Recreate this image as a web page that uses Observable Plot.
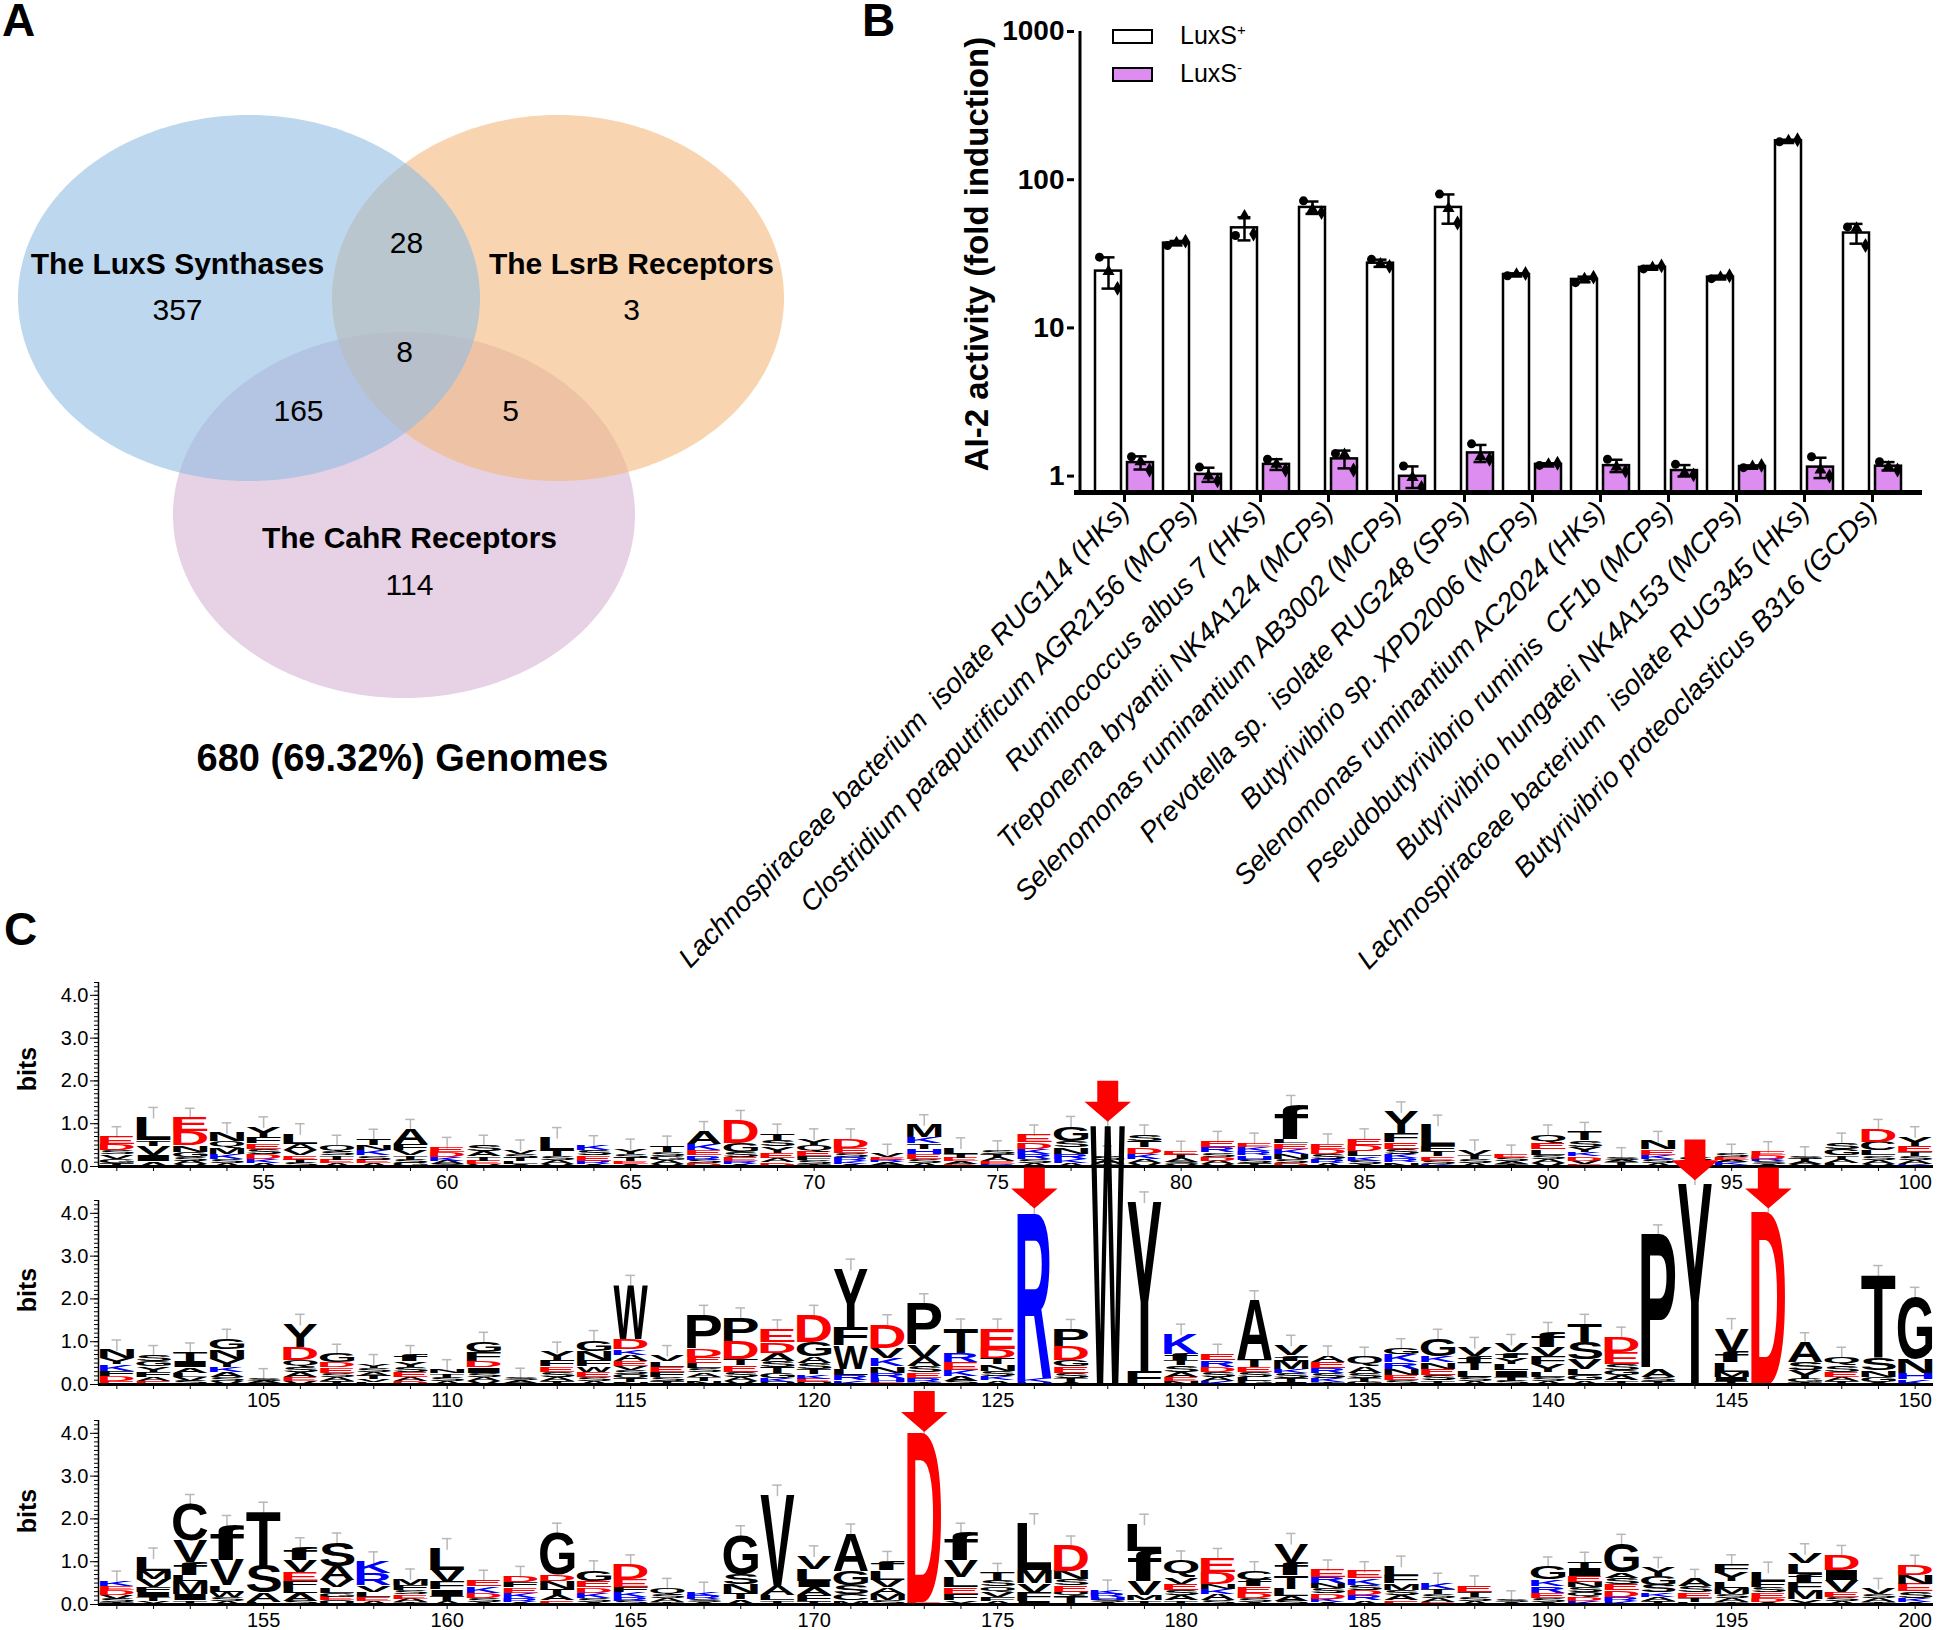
<!DOCTYPE html>
<html><head><meta charset="utf-8">
<script src="https://cdn.jsdelivr.net/npm/d3@7"></script>
<script src="https://cdn.jsdelivr.net/npm/@observablehq/plot@0.6"></script>
<style>
html,body{margin:0;padding:0;background:#fff}
#root{position:relative;width:1945px;height:1630px;overflow:hidden;font-family:"Liberation Sans",Arial,sans-serif;color:#000;background:#fff}
.lbl{position:absolute;white-space:nowrap;line-height:1}
.panel{font-weight:bold;font-size:46px}
.rot{transform:translate(-50%,-50%) rotate(-90deg);font-weight:bold}
.box{position:absolute;width:37px;height:11px;border:2px solid #000}
</style></head><body><div id="root"></div>
<script>
// ---------- Panel A: Venn ----------
const vennSets = ["The CahR Receptors", "The LsrB Receptors", "The LuxS Synthases"]; // draw order
const vennCx = [404, 558, 249];
const vennCy = [515, 298, 298];
const vennRx = [231, 226, 231];
const vennRy = [183, 183, 183];
const vennColors = ["#d7b2d2", "#f3b97b", "#91bce3"];
const vennSetLabelX = [409, 631, 177];
const vennSetLabelY = [538, 264, 264];
const vennCounts = [114, 3, 357, 28, 8, 165, 5];
const vennCountX = [409, 631, 177, 406, 404, 298, 510];
const vennCountY = [585, 310, 310, 243, 352, 411, 411];
const vennTotal = ["680 (69.32%) Genomes"];
const vennTotalX = [402], vennTotalY = [758];

// ---------- Panel B: bars ----------
const species = [
  "Lachnospiraceae bacterium  isolate RUG114 (HKs)",
  "Clostridium paraputrificum AGR2156 (MCPs)",
  "Ruminococcus albus 7 (HKs)",
  "Treponema bryantii NK4A124 (MCPs)",
  "Selenomonas ruminantium AB3002 (MCPs)",
  "Prevotella sp.  isolate RUG248 (SPs)",
  "Butyrivibrio sp. XPD2006 (MCPs)",
  "Selenomonas ruminantium AC2024 (HKs)",
  "Pseudobutyrivibrio ruminis  CF1b (MCPs)",
  "Butyrivibrio hungatei NK4A153 (MCPs)",
  "Lachnospiraceae bacterium  isolate RUG345 (HKs)",
  "Butyrivibrio proteoclasticus B316 (GCDs)"
];
const luxsPlus = [[30,24,18.5],[36,37.5,38.5],[42,57,43],[72,63,60],[29,27,26],[80,64,51],
  [22.5,23,23.3],[20.2,21.5,22],[25,25.6,26.2],[21.5,22,22.5],[180,183,186],[48,47,36]];
const luxsMinus = [[1.35,1.25,1.1],[1.15,1.0,0.93],[1.3,1.2,1.1],[1.42,1.4,1.1],[1.17,0.98,0.84],[1.65,1.35,1.3],
  [1.18,1.2,1.22],[1.3,1.15,1.08],[1.2,1.05,1.02],[1.14,1.16,1.18],[1.35,1.1,1.0],[1.25,1.15,1.1]];
const yTicksB = [1, 10, 100, 1000];
const seriesNames = ["LuxS+", "LuxS-"];

// ---------- Panel C: sequence logo (letter+height, top to bottom) ----------
const logoRow1 = ["E.18 D.15 S.1 V.1 G.1 T.08","L.55 T.12 V.22 I.15 A.12","E.32 D.32 N.15 G.12 S.1 A.08 V.05","N.2 Q.15 M.15 K.12 S.1 A.08","Y.25 F.15 E.12 S.12 D.12 K.1 A.08",
"L.25 A.15 V.12 E.1 T.08 S.08","Q.15 S.1 T.1 E.08 A.08","T.15 N.12 K.12 S.1 E.08 A.08","A.35 F.15 V.12 T.1 S.08 G.08","E.12 D.12 K.08 A.08 S.06",
"S.15 A.12 T.1 E.08 V.06","V.1 S.1 T.08 L.06 A.06","L.3 T.15 S.1 A.08 V.06","K.12 S.12 E.12 R.08 A.06","Y.12 S.1 T.08 E.06 A.06",
"T.15 S.1 G.1 A.08 V.06","A.3 K.15 E.12 R.1 S.08 D.08","D.55 G.2 S.12 E.1 R.06 A.06","T.15 S.15 Y.15 E.12 A.1 D.1","Y.15 Q.15 E.12 F.1 S.08 T.06",
"D.22 E.12 S.1 R.1 K.06 A.06","V.08 E.06 R.06 A.06 S.04","M.3 K.15 T.12 H.12 E.12 S.1 A.08","L.15 T.1 E.08 A.06 D.06","S.1 T.08 A.08 E.06 R.06",
"E.18 D.15 K.12 R.12 S.1 A.08","G.35 S.15 N.15 R.12 K.1 A.08","S.1 A.1 T.06","S.15 T.15 D.15 K.12 A.1 V.08","E.1 T.08 A.08 S.06 V.05",
"E.15 R.12 S.1 D.1 A.08 V.05","E.1 K.1 R.1 H.1 S.08 T.08","f.8 L.1 E.12 K.12 N.12 S.1 D.08","E.12 D.12 S.12 R.1 A.08","E.15 D.15 L.12 K.1 S.08 A.06",
"Y.5 F.22 E.15 S.12 K.1 R.1 N.1","L.5 F.12 T.12 E.1 S.08 K.06","V.12 T.1 S.1 A.08","E.08 S.08 A.06 T.06","Q.2 E.15 L.12 S.1 A.1 V.08",
"T.2 S.15 Y.12 K.1 D.1 V.08 E.06","S.06 A.06 T.06 K.04","N.2 E.12 K.1 S.1 A.08","S.08 A.06 T.06","S.08 E.06 A.06 K.06 T.04",
"E.1 D.08 R.06 S.06 A.06","S.06 T.06 A.06 V.06","S.15 G.15 T.1 A.08 L.08","D.3 C.2 L.12 S.1 A.1 V.06","Y.22 E.15 T.1 S.1 A.08 K.06"];
const logoRow2 = ["N.2 Y.15 K.15 F.12 D.12 E.08","S.15 G.12 Y.12 F.12 A.1 E.08","T.2 I.15 A.12 L.1 V.1 S.08","G.25 N.22 Y.18 K.12 A.12 S.1 V.08","S.06 A.05 T.04",
"Y.55 D.3 Q.15 S.12 A.12 E.1 V.08","G.2 D.12 E.12 S.1 A.1 T.08","Y.1 S.1 A.08 T.08 V.06 L.06","f.15 Y.12 S.12 E.12 A.1 D.08","N.1 T.1 S.08 A.08",
"G.25 F.2 D.15 I.12 S.1 A.1 V.08","S.06 A.06 T.04","Y.2 F.15 E.12 S.12 A.1 T.08","G.25 N.22 F.15 W.12 E.12 S.1 A.08","W1.26 D.25 K.12 A.14 E.12 V.1 S.1 Q.1 T.08 N.06",
"V.15 L.12 E.12 F.12 S.1 T.08","P.8 D.18 E.15 L.12 S.1 A.1 T.1 N.08","P.55 D.42 T.15 E.15 S.12 A.1 V.08","E.3 D.25 A.18 S.15 T.15 G.12 K.08 Q.06","D.63 G.34 A.15 S.15 T.12 K.1 E.08 Q.06",
"Y1.38 F.41 W.55 L.15 R.12 K.1","D.55 V.25 K.18 N.15 R.12 H.1 E.06","P.97 V.28 A.22 S.15 E.12 R.1 T.06","T.58 R.2 E.18 K.15 A.12 S.08","E.47 D.22 T.15 N.15 S.12 K.1 A.1",
"R3.85 K.08 H.05","P.4 D.32 G.15 E.15 S.12 T.1 A.06","W6.05","Y3.98 F.3","K.47 f.15 T.12 S.15 A.12 E.1 N.08",
"E.15 R.15 D.12 S.12 A.1 K.08","A1.38 T.17 E.12 S.12 L.1 G.08","V.25 f.12 M.2 K.1 S.12 T.08 I.06","A.15 E.15 R.12 S.12 K.08 T.06","Q.22 A.15 S.12 T.1 G.06",
"G.15 K.18 R.15 N.15 E.12 S.1","G.4 K.15 N.15 E.15 S.12 T.1","V.22 f.15 T.18 L.15 S.1 A.08","V.2 f.12 Y.15 L.15 I.15 T.1 S.08","f.35 V.22 F.18 Y.18 L.12 S.1 A.08",
"T.43 S.39 V.24 L.14 G.12 A.1","D.35 E.28 S.15 G.12 A.12 T.1","P3.15 A.18 S.1 T.08","Y4.7","V.55 f.25 L.22 M.12 I.1 T.08",
"D4.05","A.47 S.18 Y.2 G.08 T.06","Q.2 S.15 E.12 A.1 T.08","T1.95 S.28 N.15 G.12 A.06","G1.45 N.33 H.15 K.12"];
const logoRow3 = ["K.12 E.1 D.12 V.08 S.08 T.06","L.32 M.18 V.18 F.12 I.12 T.1 Y.08","C.85 V.5 f.3 L.15 M.3 I.15 T.1","f.82 V.59 L.15 W.12 S.1 A.08","T1.26 S.63 A.22 L.06",
"f.31 V.28 E.2 F.15 L.14 A.18 S.08","S.55 A.32 V.18 L.12 G.1 E.08 Q.1","K.28 R.28 V.15 L.12 E.1 A.08","M.15 F.12 S.1 E.1 A.08 T.06","L.51 V.29 F.17 I.15 T.12 A.08",
"E.15 K.15 D.12 S.1 A.06","D.15 F.12 E.12 K.12 R.1 A.06","G.98 D.15 N.18 T.15 A.12 E.1","G.25 E.15 D.12 K.12 S.1 A.06","D.35 E.17 F.12 K.12 R.1 S.08",
"Q.15 S.1 A.08 T.06","K.1 R.08 S.06 A.06","G.91 S.24 N.2 T.15 A.12","V2.13 A.22 L.12 T.1","V.31 L.28 I.15 A.18 F.15 T.08",
"A.87 G.35 S.2 C.14 M.1","f.22 L.22 V.18 A.15 M.15 S.1","D3.95 E.05","f.65 V.38 L.25 E.15 F.15 Y.1","T.17 S.15 Q.12 V.12 F.1 A.08",
"L1.1 M.3 V.22 F.2 I.08","D.59 N.2 S.14 E.15 Q.1 T.2","K.1 R.08 H.06 S.06 A.05","L.63 f.71 V.33 M.12 T.1","Q.39 V.16 E.14 S.12 A.12 T.1",
"E.33 D.28 N.12 K.12 A.14 S.1","C.2 f.15 E.15 D.12 S.1 A.06","V.46 f.3 T.31 L.17 A.12 S.08","E.17 R.15 N.12 S.12 D.12 K.08 A.06","E.17 K.15 S.12 D.12 R.12 A.1",
"L.25 F.17 M.15 S.12 A.12 E.1","K.15 T.12 S.1 A.08 E.06","E.15 T.12 S.1 A.08","S.05 A.05","G.31 K.15 R.15 E.12 S.1 A.06",
"T.15 I.18 E.15 N.12 S.12 Q.1 D.1 K.08","G.67 A.12 S.15 E.15 D.15 R.1 K.08","Y.22 G.2 S.18 K.1 A.1 T.08","A.17 S.15 E.12 T.1 L.06","F.2 Y.2 L.15 M.15 S.1 A.08 T.06",
"L.22 F.15 S.12 E.12 D.1 A.06","V.24 L.24 f.2 F.18 M.21 Y.13","D.35 I.24 V.27 E.12 S.1 A.08","V.15 S.1 A.08 T.06","D.25 N.2 E.17 S.15 K.1 A.06"];
const logoStarts = [51, 101, 151];
const arrowPos = [[], [126, 128, 144, 146], [173]];
const arrowBits = [[], [4.59, 6.62, 5.25, 4.59], [4.51]];
const yTicksLogo = [0, 1, 2, 3, 4];

// ---------- helpers ----------
const root = document.getElementById("root");
const FONT = "Liberation Sans, Arial, sans-serif";
function place(el, left, top) {
  el.style.position = "absolute"; el.style.left = left + "px"; el.style.top = top + "px";
  el.style.overflow = "visible"; el.style.background = "transparent"; el.style.maxWidth = "none";
  root.appendChild(el); return el;
}
function addLabel(html, left, top, cls, css) {
  const d = document.createElement("div"); d.className = "lbl " + (cls || "");
  d.innerHTML = html; d.style.left = left + "px"; d.style.top = top + "px";
  if (css) Object.assign(d.style, css);
  root.appendChild(d); return d;
}

// ---------- Venn ----------
{
  const marks = vennSets.map((name, i) => {
    const pts = d3.range(0, 181).map(k => {
      const t = Math.PI * k / 180;
      return {x: vennCx[i] + vennRx[i] * Math.cos(t), y1: vennCy[i] - vennRy[i] * Math.sin(t), y2: vennCy[i] + vennRy[i] * Math.sin(t)};
    });
    return Plot.areaY(pts, {x: "x", y1: "y1", y2: "y2", fill: vennColors[i], fillOpacity: 0.6});
  });
  const setLabels = vennSets.map((s, i) => ({s, x: vennSetLabelX[i], y: vennSetLabelY[i]}));
  const counts = vennCounts.map((c, i) => ({c: String(c), x: vennCountX[i], y: vennCountY[i]}));
  const total = vennTotal.map((t, i) => ({t, x: vennTotalX[i], y: vennTotalY[i]}));
  const venn = Plot.plot({
    width: 960, height: 800, margin: 0,
    x: {domain: [0, 960], range: [0, 960], axis: null},
    y: {domain: [0, 800], range: [0, 800], axis: null},
    style: {fontFamily: FONT},
    marks: [
      ...marks,
      Plot.text(setLabels, {x: "x", y: "y", text: "s", fontSize: 30, fontWeight: "bold", fill: "#000"}),
      Plot.text(counts, {x: "x", y: "y", text: "c", fontSize: 30, fill: "#000"}),
      Plot.text(total, {x: "x", y: "y", text: "t", fontSize: 38, fontWeight: "bold", fill: "#000"})
    ]
  });
  place(venn, 0, 0);
}

// ---------- Bars ----------
{
  const yMin = 0.775;
  const bData = species.map((s, i) => ({
    species: s,
    pMean: d3.mean(luxsPlus[i]), pSd: d3.deviation(luxsPlus[i]),
    mMean: d3.mean(luxsMinus[i]), mSd: d3.deviation(luxsMinus[i])
  }));
  const reps = ["r0", "r1", "r2"];
  const jitter = [-9, 0, 9];
  const sw = 2.5;
  const dotMarks = reps.flatMap((rep, k) => [
    Plot.dot(species.map((s, i) => ({species: s, v: luxsPlus[i][k], rep})), {x: "species", y: "v", dx: -16 + jitter[k], symbol: "rep", r: 4.5, fill: "black", stroke: "none"}),
    Plot.dot(species.map((s, i) => ({species: s, v: luxsMinus[i][k], rep})), {x: "species", y: "v", dx: 16 + jitter[k], symbol: "rep", r: 4.5, fill: "black", stroke: "none"})
  ]);
  const bars = Plot.plot({
    width: 985, height: 980,
    marginLeft: 114, marginRight: 23, marginTop: 31, marginBottom: 488,
    x: {domain: species, paddingInner: 0, paddingOuter: 0.145, axis: null},
    y: {type: "log", domain: [yMin, 1000], axis: null},
    symbol: {domain: reps, range: ["circle", "triangle", "diamond"]},
    style: {fontFamily: FONT},
    marks: [
      Plot.barY(bData, {x: "species", y1: yMin, y2: "pMean", fill: "white", stroke: "black", strokeWidth: sw, insetLeft: 5, insetRight: 37}),
      Plot.barY(bData, {x: "species", y1: yMin, y2: "mMean", fill: "#dd8cf0", stroke: "black", strokeWidth: sw, insetLeft: 37, insetRight: 5}),
      Plot.ruleX(bData, {x: "species", y1: d => d.pMean - d.pSd, y2: d => d.pMean + d.pSd, dx: -16, strokeWidth: 2.5}),
      Plot.tickY(bData, {x: "species", y: d => d.pMean + d.pSd, insetLeft: 11.5, insetRight: 43.5, strokeWidth: 2.5}),
      Plot.tickY(bData, {x: "species", y: d => d.pMean - d.pSd, insetLeft: 11.5, insetRight: 43.5, strokeWidth: 2.5}),
      Plot.ruleX(bData, {x: "species", y1: d => d.mMean - d.mSd, y2: d => d.mMean + d.mSd, dx: 16, strokeWidth: 2.5}),
      Plot.tickY(bData, {x: "species", y: d => d.mMean + d.mSd, insetLeft: 43.5, insetRight: 11.5, strokeWidth: 2.5}),
      Plot.tickY(bData, {x: "species", y: d => d.mMean - d.mSd, insetLeft: 43.5, insetRight: 11.5, strokeWidth: 2.5}),
      ...dotMarks,
      Plot.ruleY([yMin], {strokeWidth: 5}),
      Plot.ruleX([species[0]], {y1: yMin, y2: 1000, dx: -44.5, strokeWidth: 3}),
      Plot.axisY({ticks: yTicksB, tickFormat: d => String(d), fontSize: 28, fontWeight: "bold", tickSize: 7, tickPadding: 3, strokeWidth: 3, label: null}),
      Plot.axisX({tickRotate: -46, fontSize: 28, fontStyle: "italic", tickSize: 10, tickPadding: 4, strokeWidth: 3, label: null})
    ]
  });
  place(bars, 960, 0);
}

// ---------- Logo rows ----------
const letterColor = ch => ("DE".includes(ch) ? "#ff0000" : "KRH".includes(ch) ? "#0000ff" : "#000000");
const measureCtx = document.createElement("canvas").getContext("2d");
measureCtx.font = 'bold 100px "Liberation Sans"';

function stretchLetters(plot, letters) {
  const xs = plot.scale("x"), ys = plot.scale("y");
  const nodes = plot.querySelectorAll('g[aria-label="text"] text');
  nodes.forEach((node, i) => {
    const d = letters[i]; if (!d) return;
    const m = measureCtx.measureText(d.ch);
    const left = -m.actualBoundingBoxLeft, right = m.actualBoundingBoxRight;
    const top = -m.actualBoundingBoxAscent, bottom = m.actualBoundingBoxDescent;
    const X0 = xs.apply(d.pos - 0.47), X1 = xs.apply(d.pos + 0.47);
    const Yb = ys.apply(d.y0), Yt = ys.apply(d.y1);
    const sx = (X1 - X0) / (right - left), sy = (Yb - Yt) / (bottom - top);
    node.setAttribute("x", 0); node.setAttribute("y", 0); node.removeAttribute("dy");
    node.setAttribute("text-anchor", "start");
    node.setAttribute("transform", `translate(${X0 - left * sx},${Yb - bottom * sy}) scale(${sx},${sy})`);
  });
}

function logoRow(r, topPx, H) {
  const start = logoStarts[r];
  const rows = [logoRow1, logoRow2, logoRow3][r];
  const letters = [], tops = [];
  rows.forEach((s, i) => {
    const pos = start + i;
    const items = s.split(" ").map(t => ({ch: t[0], h: +t.slice(1)}));
    let y = 0;
    for (const it of items.slice().reverse()) { letters.push({pos, ch: it.ch, y0: y, y1: y + it.h}); y += it.h; }
    tops.push({pos, top: y});
  });
  const arrows = arrowPos[r].map((p, i) => ({pos: p, y: arrowBits[r][i]}));
  const arrowSymbol = {draw(ctx, size) {
    const s = Math.sqrt(size), hw = 0.567 * s, sw = 0.256 * s, t = -0.5 * s, mid = 0.012 * s, tip = 0.5 * s;
    ctx.moveTo(-sw, t); ctx.lineTo(sw, t); ctx.lineTo(sw, mid); ctx.lineTo(hw, mid);
    ctx.lineTo(0, tip); ctx.lineTo(-hw, mid); ctx.lineTo(-sw, mid); ctx.closePath();
  }};
  const plot = Plot.plot({
    width: 1945, height: H, marginLeft: 98, marginRight: 12, marginTop: 22, marginBottom: H - 206,
    x: {domain: [start - 0.5, start + 49.5], axis: null},
    y: {domain: [0, 4.3], axis: null},
    color: {type: "identity"},
    style: {fontFamily: FONT},
    marks: [
      Plot.ruleX(tops, {x: "pos", y1: d => d.top - 0.05, y2: d => d.top + 0.22, stroke: "#b8b8b8", strokeWidth: 1.5}),
      Plot.ruleY(tops, {x1: d => d.pos - 0.13, x2: d => d.pos + 0.13, y: d => d.top + 0.22, stroke: "#b8b8b8", strokeWidth: 1.5}),
      Plot.text(letters, {x: "pos", y: "y0", text: "ch", fill: d => letterColor(d.ch), fontSize: 100, fontWeight: "bold", fontFamily: "Liberation Sans"}),
      Plot.axisX({ticks: d3.range(start, start + 50), tickFormat: d => (d % 5 === 0 ? String(d) : ""), tickSize: 5, fontSize: 20, tickPadding: 3, label: null}),
      Plot.axisY({ticks: yTicksLogo, tickFormat: d3.format(".1f"), tickSize: 8, fontSize: 20, tickPadding: 2, label: null}),
      Plot.axisY({ticks: d3.range(0, 4.31, 0.1), tickFormat: () => "", tickSize: 4, label: null}),
      Plot.ruleY([0], {strokeWidth: 3}),
      Plot.ruleX([start - 0.5], {y1: 0, y2: 4.3, strokeWidth: 1.5}),
      Plot.dot(arrows, {x: "pos", y: "y", symbol: arrowSymbol, r: 23.1, fill: "#ff0000", stroke: "none"})
    ]
  });
  place(plot, 0, topPx);
  stretchLetters(plot, letters);
}
logoRow(0, 960, 240);
logoRow(1, 1178, 240);
logoRow(2, 1398, 232);

// ---------- HTML text: panel letters, titles, legend ----------
addLabel("A", 2, -3, "panel");
addLabel("B", 862, -3, "panel");
addLabel("C", 4, 906, "panel");
addLabel("AI-2 activity (fold induction)", 976, 254, "rot", {fontSize: "33px"});
[1069, 1290, 1511].forEach(y => addLabel("bits", 27, y, "rot", {fontSize: "25px"}));
const lg = [{t: "LuxS<sup style='font-size:15px'>+</sup>", fill: "#fff", y: 29}, {t: "LuxS<sup style='font-size:15px'>-</sup>", fill: "#dd8cf0", y: 67}];
lg.forEach(l => {
  const b = document.createElement("div"); b.className = "box"; b.style.left = "1112px"; b.style.top = l.y + "px"; b.style.background = l.fill;
  root.appendChild(b);
  addLabel(l.t, 1180, l.y - 7, "", {fontSize: "25px"});
});
</script></body></html>
